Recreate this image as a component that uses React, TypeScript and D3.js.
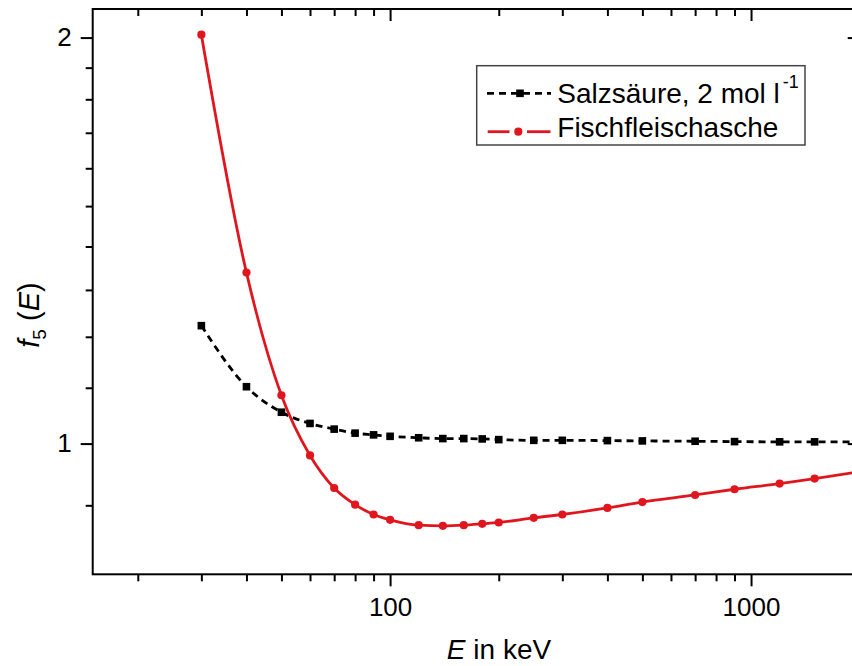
import React, { useEffect, useRef } from 'react';
import * as d3 from 'd3';

// energies in keV (same grid for both series)
const energies = [30, 40, 50, 60, 70, 80, 90, 100, 120, 140, 160, 180, 200, 250, 300, 400, 500, 700, 900, 1200, 1500, 2000];
const salzsaeure = [1.223, 1.102, 1.055, 1.035, 1.025, 1.018, 1.015, 1.0125, 1.010, 1.0086, 1.0086, 1.008, 1.0068, 1.0056, 1.0056, 1.0051, 1.0046, 1.004, 1.0034, 1.003, 1.003, 1.003];
const fischasche = [2.01, 1.339, 1.086, 0.98, 0.927, 0.901, 0.886, 0.878, 0.87, 0.869, 0.87, 0.872, 0.874, 0.881, 0.886, 0.896, 0.905, 0.916, 0.925, 0.934, 0.942, 0.953];

const xMajorTicks = [100, 1000];
const xMinorTicks = [20, 30, 40, 50, 60, 70, 80, 90, 200, 300, 400, 500, 600, 700, 800, 900, 2000];
const yMajorTicks = [1, 2];
const yMinorTicks = [0.9, 1.1, 1.2, 1.3, 1.4, 1.5, 1.6, 1.7, 1.8, 1.9];
const seriesNames = ['Salzsäure, 2 mol l', 'Fischfleischasche'];

const RED = '#e0161e';
const FONT = '"Liberation Sans", Arial, sans-serif';

export default function App() {
  const ref = useRef<SVGSVGElement>(null);

  useEffect(() => {
    const svg = d3.select(ref.current);
    svg.selectAll('*').remove();

    const left = 92.7, right = 859.7, top = 9, bottom = 574.3;

    const x = d3.scaleLog().domain([15, 2000]).range([left, right]);
    const y = d3.scaleLog().domain([0.8, 2.1]).range([bottom, top]);

    const styleAxis = (g: any) => {
      g.select('.domain').remove();
      g.selectAll('line').attr('stroke', '#000').attr('stroke-width', 2);
      g.selectAll('text').attr('font-family', FONT).attr('font-size', 26).attr('fill', '#000');
    };

    // bottom axis
    svg.append('g').attr('transform', `translate(0,${bottom})`)
      .call(d3.axisBottom(x).tickValues(xMajorTicks).tickSize(12).tickPadding(11).tickFormat(d3.format('d')))
      .call(styleAxis);
    svg.append('g').attr('transform', `translate(0,${bottom})`)
      .call(d3.axisBottom(x).tickValues(xMinorTicks).tickSize(7).tickFormat(() => ''))
      .call(styleAxis);

    // top axis, ticks inward
    svg.append('g').attr('transform', `translate(0,${top})`)
      .call(d3.axisTop(x).tickValues(xMajorTicks).tickSize(-12).tickFormat(() => ''))
      .call(styleAxis);
    svg.append('g').attr('transform', `translate(0,${top})`)
      .call(d3.axisTop(x).tickValues(xMinorTicks).tickSize(-7).tickFormat(() => ''))
      .call(styleAxis);

    // left axis
    svg.append('g').attr('transform', `translate(${left},0)`)
      .call(d3.axisLeft(y).tickValues(yMajorTicks).tickSize(12).tickPadding(9).tickFormat(d3.format('d')))
      .call(styleAxis);
    svg.append('g').attr('transform', `translate(${left},0)`)
      .call(d3.axisLeft(y).tickValues(yMinorTicks).tickSize(7).tickFormat(() => ''))
      .call(styleAxis);

    // right axis, ticks inward
    svg.append('g').attr('transform', `translate(${right},0)`)
      .call(d3.axisRight(y).tickValues(yMajorTicks).tickSize(-12).tickFormat(() => ''))
      .call(styleAxis);
    svg.append('g').attr('transform', `translate(${right},0)`)
      .call(d3.axisRight(y).tickValues(yMinorTicks).tickSize(-7).tickFormat(() => ''))
      .call(styleAxis);

    // frame
    svg.append('rect')
      .attr('x', left).attr('y', top)
      .attr('width', right - left).attr('height', bottom - top)
      .attr('fill', 'none').attr('stroke', '#000').attr('stroke-width', 2);

    const line = d3.line<number>()
      .x((d, i) => x(energies[i]))
      .y(d => y(d))
      .curve(d3.curveMonotoneX);

    // Salzsäure: dashed black with squares
    svg.append('path').datum(salzsaeure)
      .attr('d', line).attr('fill', 'none')
      .attr('stroke', '#000').attr('stroke-width', 2.8).attr('stroke-dasharray', '7,5');
    svg.selectAll('.sq').data(salzsaeure).enter().append('rect')
      .attr('class', 'sq')
      .attr('x', (d, i) => x(energies[i]) - 3.8)
      .attr('y', d => y(d) - 3.8)
      .attr('width', 7.6).attr('height', 7.6)
      .attr('fill', '#000');

    // Fischfleischasche: solid red with circles
    svg.append('path').datum(fischasche)
      .attr('d', line).attr('fill', 'none')
      .attr('stroke', RED).attr('stroke-width', 2.8);
    svg.selectAll('.dot').data(fischasche).enter().append('circle')
      .attr('class', 'dot')
      .attr('cx', (d, i) => x(energies[i]))
      .attr('cy', d => y(d))
      .attr('r', 4.1)
      .attr('fill', RED);

    // legend
    const lg = svg.append('g');
    lg.append('rect')
      .attr('x', 476.7).attr('y', 65.7).attr('width', 328.3).attr('height', 79.3)
      .attr('fill', '#fff').attr('stroke', '#444').attr('stroke-width', 1.5);
    lg.append('line').attr('x1', 487).attr('x2', 551).attr('y1', 93.3).attr('y2', 93.3)
      .attr('stroke', '#000').attr('stroke-width', 2.8).attr('stroke-dasharray', '7,5');
    lg.append('rect').attr('x', 520 - 3.8).attr('y', 93.3 - 3.8).attr('width', 7.6).attr('height', 7.6).attr('fill', '#000');
    lg.append('line').attr('x1', 487.7).attr('x2', 509.5).attr('y1', 131.7).attr('y2', 131.7)
      .attr('stroke', RED).attr('stroke-width', 2.8);
    lg.append('line').attr('x1', 527).attr('x2', 550.5).attr('y1', 131.7).attr('y2', 131.7)
      .attr('stroke', RED).attr('stroke-width', 2.8);
    lg.append('circle').attr('cx', 518.3).attr('cy', 131.7).attr('r', 4.1).attr('fill', RED);

    const t1 = lg.append('text').attr('x', 557.3).attr('y', 102.5)
      .attr('font-family', FONT).attr('font-size', 28).attr('fill', '#000');
    t1.append('tspan').text(seriesNames[0]);
    t1.append('tspan').attr('font-size', 18).attr('dx', 3).attr('dy', -15).text('-1');
    lg.append('text').attr('x', 557.3).attr('y', 136.5)
      .attr('font-family', FONT).attr('font-size', 28).attr('fill', '#000')
      .text(seriesNames[1]);

    // axis titles
    const xt = svg.append('text').attr('x', 499).attr('y', 659)
      .attr('text-anchor', 'middle').attr('font-family', FONT).attr('font-size', 28).attr('fill', '#000');
    xt.append('tspan').attr('font-style', 'italic').text('E');
    xt.append('tspan').text(' in keV');

    const yt = svg.append('text')
      .attr('transform', 'translate(39,315) rotate(-90)')
      .attr('text-anchor', 'middle').attr('font-family', FONT).attr('font-size', 29).attr('fill', '#000');
    yt.append('tspan').attr('font-style', 'italic').text('f');
    yt.append('tspan').attr('font-size', 19).attr('dy', 7).text('5');
    yt.append('tspan').attr('dy', -7).text(' (');
    yt.append('tspan').attr('font-style', 'italic').text('E');
    yt.append('tspan').text(')');
  }, []);

  return (
    <svg
      ref={ref}
      width={852}
      height={666}
      style={{ position: 'absolute', left: 0, top: 0, background: '#fff', overflow: 'hidden' }}
    />
  );
}
